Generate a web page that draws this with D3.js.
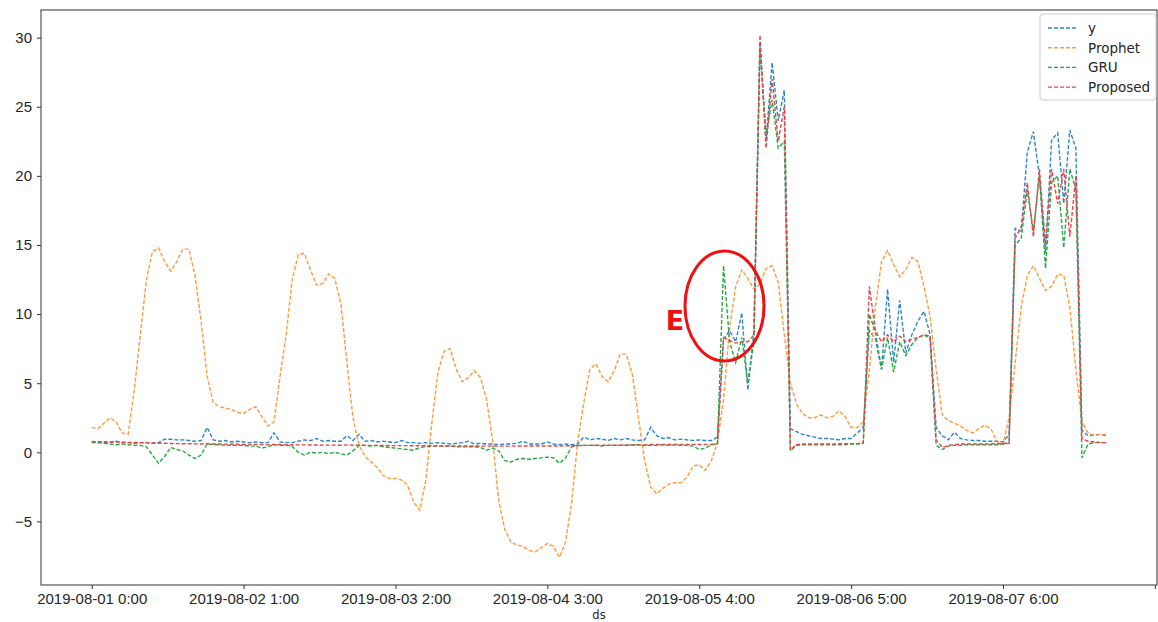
<!DOCTYPE html>
<html>
<head>
<meta charset="utf-8">
<title>Forecast comparison</title>
<style>
  body { margin: 0; background: #fff; }
  svg { display: block; font-family: "DejaVu Sans", sans-serif; }
  .axis text { font-size: 15px; fill: #262626; }
  .axis path, .axis line { stroke: #333; }
</style>
</head>
<body>
<svg width="1158" height="622"></svg>
<script src="https://cdnjs.cloudflare.com/ajax/libs/d3/7.8.5/d3.min.js"></script>
<script>
// hourly series, index 0 = 2019-08-01 0:00
const actual = [
  0.75,0.7,0.7,0.75,0.8,0.7,0.7,0.65,0.7,0.7,0.65,0.7,0.95,0.95,0.9,0.9,0.85,0.8,0.85,1.8,0.9,0.8,0.85,0.75,
  0.8,0.75,0.7,0.75,0.7,0.7,1.4,0.75,0.7,0.7,0.8,0.9,0.85,1.0,0.8,0.85,0.8,0.8,1.2,0.85,1.3,0.8,0.85,0.75,
  0.8,0.75,0.7,0.85,0.7,0.7,0.65,0.7,0.65,0.7,0.65,0.6,0.65,0.7,0.8,0.6,0.65,0.6,0.6,0.55,0.6,0.6,0.65,0.8,
  0.6,0.6,0.6,0.75,0.6,0.55,0.6,0.55,0.6,1.1,0.9,1.0,0.95,0.85,1.0,0.9,1.0,0.9,0.85,0.9,1.8,1.2,1.0,1.05,
  0.9,0.95,0.9,0.85,0.9,0.85,0.85,1.1,8.2,8.8,8.0,10.1,4.5,8.8,29.5,22.5,28.2,24.0,26.2,1.7,1.5,1.3,1.2,1.1,
  1.0,1.0,0.95,0.9,1.0,1.0,1.4,1.8,8.8,8.2,6.0,11.8,6.5,11.0,7.2,8.5,9.5,10.2,8.5,1.8,1.2,0.9,1.45,1.0,
  0.9,0.85,0.85,0.8,0.8,0.8,0.75,1.3,16.2,16.0,21.7,23.2,20.0,14.4,22.6,23.1,18.0,23.3,22.0,1.6,1.2,1.25,1.3,1.2
];
const prophet = [
  1.8,1.7,2.1,2.5,2.2,1.4,1.3,4.5,8.5,12.5,14.5,14.8,13.8,13.1,13.8,14.7,14.7,12.8,9.5,5.5,3.6,3.3,3.2,3.1,
  2.9,2.8,3.1,3.3,2.6,1.9,2.2,5.5,8.5,12.5,14.3,14.4,13.2,12.1,12.2,12.9,12.6,10.8,6.5,2.5,0.5,-0.3,-0.7,-1.1,
  -1.7,-1.9,-1.9,-2.0,-2.4,-3.6,-4.2,-2.0,2.2,5.8,7.3,7.5,6.0,5.1,5.4,5.9,5.4,3.8,0.8,-3.5,-5.6,-6.5,-6.7,-6.8,
  -7.1,-7.2,-6.9,-6.6,-6.8,-7.6,-6.5,-3.6,0.8,3.6,6.0,6.4,5.5,5.1,5.9,7.1,7.1,5.6,2.5,-0.6,-2.5,-3.0,-2.6,-2.3,
  -2.2,-2.2,-1.8,-1.0,-0.9,-1.3,-0.6,0.7,3.8,9.0,12.0,13.2,12.6,11.8,12.2,13.3,13.5,12.3,8.5,5.0,3.5,2.8,2.5,2.5,
  2.7,2.5,2.6,3.0,2.6,1.8,1.8,2.2,6.0,10.5,13.8,14.6,13.6,12.7,13.2,14.1,13.8,12.0,9.8,6.0,2.7,2.3,2.1,1.9,
  1.6,1.4,1.7,1.95,1.7,0.8,0.6,2.5,6.5,10.5,12.8,13.5,12.6,11.7,12.0,12.9,12.8,10.5,6.0,2.2,1.4,1.2,1.3,1.3
];
const gru = [
  0.7,0.7,0.65,0.6,0.55,0.6,0.55,0.5,0.5,0.4,-0.2,-0.8,-0.3,0.35,0.2,0.1,-0.2,-0.45,-0.2,0.6,0.55,0.55,0.5,0.5,
  0.5,0.5,0.45,0.45,0.3,0.4,0.55,0.5,0.5,0.45,0.0,-0.2,0.0,-0.05,0.0,-0.1,0.0,-0.1,-0.2,0.1,0.5,0.5,0.45,0.5,
  0.4,0.35,0.3,0.25,0.2,0.15,0.35,0.4,0.45,0.45,0.45,0.45,0.4,0.4,0.4,0.4,0.35,0.15,0.3,0.1,-0.6,-0.7,-0.5,-0.45,
  -0.5,-0.45,-0.4,-0.35,-0.4,-0.8,-0.4,0.4,0.5,0.5,0.5,0.5,0.45,0.5,0.5,0.5,0.5,0.55,0.55,0.5,0.5,0.5,0.55,0.5,
  0.55,0.5,0.5,0.45,0.2,0.3,0.55,0.6,13.5,8.0,6.5,8.3,5.0,8.0,29.3,23.0,25.5,22.0,22.5,0.1,0.5,0.55,0.55,0.55,
  0.55,0.55,0.55,0.55,0.55,0.6,0.6,0.65,10.0,8.7,6.0,8.3,5.8,8.0,7.0,7.8,8.3,8.5,8.2,0.5,0.2,0.45,0.5,0.5,
  0.55,0.55,0.55,0.55,0.55,0.55,0.6,0.65,15.0,15.5,19.0,16.0,20.0,13.3,19.5,20.0,14.8,20.5,19.0,-0.4,0.6,0.7,0.7,0.7
];
const proposed = [
  0.78,0.77,0.76,0.75,0.74,0.73,0.72,0.71,0.7,0.69,0.68,0.66,0.65,0.64,0.63,0.62,0.62,0.61,0.6,0.62,0.6,0.6,0.59,0.58,
  0.58,0.57,0.57,0.56,0.56,0.55,0.57,0.56,0.55,0.55,0.54,0.54,0.53,0.53,0.52,0.52,0.52,0.51,0.53,0.51,0.52,0.5,0.5,0.5,
  0.49,0.49,0.48,0.48,0.48,0.47,0.47,0.47,0.47,0.46,0.46,0.46,0.46,0.46,0.46,0.46,0.45,0.45,0.45,0.45,0.45,0.45,0.45,0.46,
  0.46,0.46,0.46,0.46,0.46,0.46,0.47,0.47,0.48,0.5,0.5,0.51,0.51,0.52,0.52,0.52,0.53,0.53,0.53,0.54,0.56,0.56,0.56,0.56,
  0.56,0.56,0.57,0.57,0.57,0.57,0.58,0.62,8.3,8.1,7.9,8.0,8.0,8.5,30.2,22.0,27.0,22.5,25.0,0.2,0.55,0.6,0.6,0.6,
  0.6,0.6,0.6,0.62,0.62,0.62,0.63,0.7,12.0,8.8,8.0,8.5,8.0,8.4,8.0,8.2,8.3,8.5,8.4,0.9,0.35,0.5,0.55,0.6,
  0.6,0.6,0.6,0.6,0.62,0.62,0.62,0.7,15.5,16.3,19.5,15.6,20.5,15.0,20.5,18.0,20.5,15.6,20.0,1.0,0.8,0.75,0.72,0.7
];
const seriesNames = ["y", "Prophet", "GRU", "Proposed"];
const seriesColors = ["#2b86c5", "#ff9a3c", "#27a844", "#e8454a"];
const yTicks = [-5, 0, 5, 10, 15, 20, 25, 30];
const xTicks = [0, 25, 50, 75, 100, 125, 150, 175];
const xTickLabels = ["2019-08-01 0:00", "2019-08-02 1:00", "2019-08-03 2:00", "2019-08-04 3:00",
                     "2019-08-05 4:00", "2019-08-06 5:00", "2019-08-07 6:00", ""];

const svg = d3.select("svg");
const margin = { left: 41, right: 1157, top: 10, bottom: 585 };

const x = d3.scaleLinear().domain([-8.35, 175.35]).range([margin.left, margin.right]);
const y = d3.scaleLinear().domain([-9.6, 32.0]).range([margin.bottom, margin.top]);

// frame
svg.append("rect")
  .attr("x", margin.left).attr("y", margin.top)
  .attr("width", margin.right - margin.left).attr("height", margin.bottom - margin.top)
  .attr("fill", "none").attr("stroke", "#333").attr("stroke-width", 1);

const xAxis = d3.axisBottom(x).tickValues(xTicks)
  .tickFormat((d, i) => xTickLabels[i]).tickSize(4).tickPadding(4);
svg.append("g").attr("class", "axis")
  .attr("transform", "translate(0," + margin.bottom + ")")
  .call(xAxis)
  .call(g => g.select(".domain").remove());

const yAxis = d3.axisLeft(y).tickValues(yTicks)
  .tickFormat(d => d < 0 ? "\u2212" + Math.abs(d) : d).tickSize(4).tickPadding(5);
svg.append("g").attr("class", "axis")
  .attr("transform", "translate(" + margin.left + ",0)")
  .call(yAxis)
  .call(g => g.select(".domain").remove());

svg.append("text")
  .attr("x", (margin.left + margin.right) / 2).attr("y", 619)
  .attr("text-anchor", "middle")
  .style("font-size", "11.5px").style("fill", "#262626")
  .text("ds");

const allSeries = [actual, prophet, gru, proposed];
const line = d3.line().x((d, i) => x(i)).y(d => y(d));

svg.append("g").selectAll("path")
  .data(allSeries)
  .join("path")
  .attr("d", line)
  .attr("fill", "none")
  .attr("stroke", (d, i) => seriesColors[i])
  .attr("stroke-width", 1.4)
  .attr("stroke-dasharray", "4,2");

// legend
const lg = svg.append("g").attr("transform", "translate(1040,14)");
lg.append("rect")
  .attr("width", 116).attr("height", 86).attr("rx", 3)
  .attr("fill", "#fff").attr("fill-opacity", 0.85)
  .attr("stroke", "#ccc");
seriesNames.forEach((name, i) => {
  const row = lg.append("g").attr("transform", "translate(0," + (14 + i * 19.7) + ")");
  row.append("line")
    .attr("x1", 8).attr("x2", 37).attr("y1", 0).attr("y2", 0)
    .attr("stroke", seriesColors[i]).attr("stroke-width", 1.4)
    .attr("stroke-dasharray", "4,2");
  row.append("text")
    .attr("x", 48).attr("y", 5)
    .style("font-size", "13.5px").style("fill", "#262626")
    .text(name);
});

// annotation
svg.append("ellipse")
  .attr("cx", 724.5).attr("cy", 306).attr("rx", 39.5).attr("ry", 55)
  .attr("fill", "none").attr("stroke", "#ee1111").attr("stroke-width", 3);
svg.append("text")
  .attr("x", 675).attr("y", 330).attr("text-anchor", "middle")
  .style("font-size", "27px").style("font-weight", "bold").style("fill", "#ee1111")
  .text("E");
</script>
</body>
</html>
